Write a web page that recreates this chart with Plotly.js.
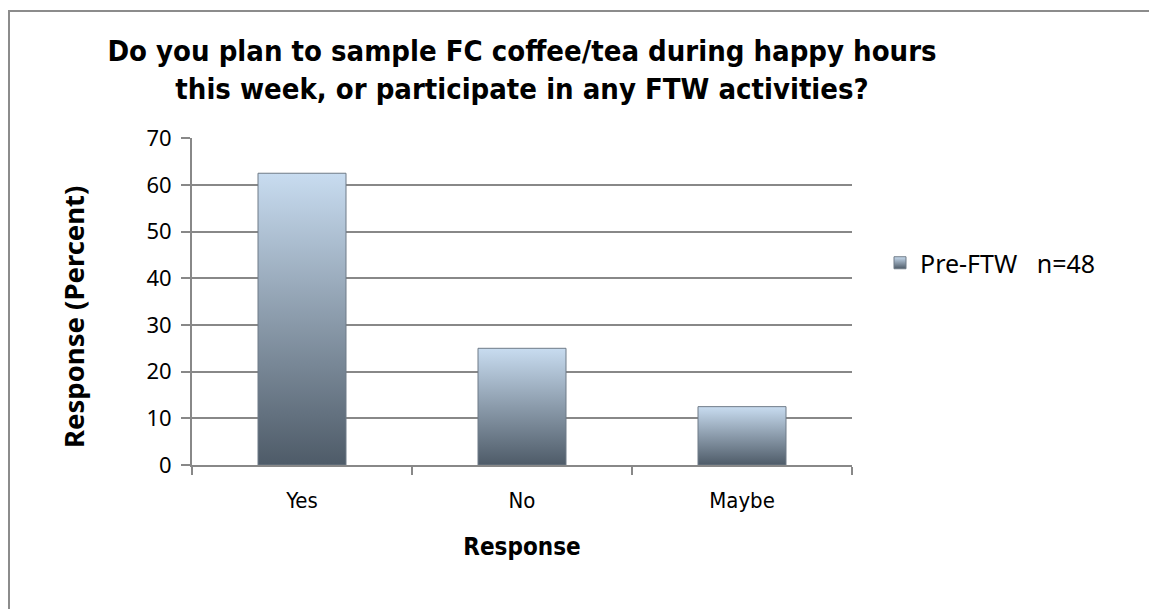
<!DOCTYPE html>
<html>
<head>
<meta charset="utf-8">
<script src="https://cdn.plot.ly/plotly-3.0.1.min.js"></script>
<style>
html,body{margin:0;padding:0;background:#fff;}
#chart{width:1149px;height:609px;}
</style>
</head>
<body>
<div id="chart"></div>
<script>
// Data
const categories = ["Yes", "No", "Maybe"];
const preFTW = [62.5, 25, 12.5];
const seriesName = "Pre-FTW   n=48";
const yTickVals = [0, 10, 20, 30, 40, 50, 60, 70];

const W = 1149, H = 609;
const mL = 192, mR = 297, mT = 138, mB = 144;
const pw = W - mL - mR, ph = H - mT - mB;
const px = v => (v - mL) / pw;
const py = v => (H - mB - v) / ph;

const COND = 'DejaVu Sans Condensed, DejaVu Sans';

const trace = {
  type: 'bar',
  x: categories,
  y: preFTW,
  name: seriesName,
  showlegend: true,
  marker: {color: '#8796a6', line: {color: '#6f7b87', width: 1}},
  hoverinfo: 'none'
};

const layout = {
  width: W, height: H,
  margin: {l: mL, r: mR, t: mT, b: mB, pad: 0},
  paper_bgcolor: '#ffffff',
  plot_bgcolor: '#ffffff',
  bargap: 0.6,
  showlegend: true,
  title: {
    text: 'Do you plan to sample FC coffee/tea during happy hours<br>this week, or participate in any FTW activities?',
    font: {family: COND, size: 29, color: '#000', weight: 'bold'},
    xref: 'paper', x: 0.5, xanchor: 'center',
    yref: 'container', y: 1 - 61/609, yanchor: 'top'
  },
  xaxis: {
    type: 'category',
    showgrid: false,
    showline: true, linecolor: '#888888', linewidth: 2,
    ticks: 'outside', tickson: 'boundaries', ticklen: 8, tickcolor: '#888888', tickwidth: 2,
    ticklabelstandoff: 15,
    tickfont: {family: COND, size: 22, color: '#000'},
    title: {text: 'Response', font: {family: COND, size: 24, color: '#000', weight: 'bold'}, standoff: 26},
    fixedrange: true
  },
  yaxis: {
    range: [0, 70.05],
    tickvals: yTickVals,
    showgrid: true, gridcolor: '#888888', gridwidth: 2,
    showline: true, linecolor: '#888888', linewidth: 2,
    ticks: 'outside', ticklen: 9, tickcolor: '#888888', tickwidth: 2,
    ticklabelstandoff: 5,
    tickfont: {family: 'Noto Sans', size: 22, color: '#000'},
    zeroline: false,
    fixedrange: true
  },
  annotations: [{
    text: 'Response (Percent)', textangle: -90,
    xref: 'paper', yref: 'paper', x: px(73), y: py(317),
    xanchor: 'center', yanchor: 'middle', showarrow: false,
    font: {family: 'Noto Sans', size: 27.5, color: '#000', weight: 'bold'}
  }],
  legend: {
    xref: 'container', x: 880/W, xanchor: 'left',
    yref: 'container', y: 1 - 263/H, yanchor: 'middle',
    font: {family: 'Noto Sans', size: 25, color: '#000'},
    bgcolor: 'rgba(0,0,0,0)',
    itemwidth: 30
  },
  shapes: [{
    type: 'rect', xref: 'paper', yref: 'paper',
    x0: px(9), x1: px(1200), y0: py(11), y1: py(700),
    line: {color: '#8c8c8c', width: 2}, fillcolor: 'rgba(0,0,0,0)', layer: 'below'
  }]
};

const gd = document.getElementById('chart');
Plotly.newPlot(gd, [trace], layout, {staticPlot: true, displayModeBar: false}).then(() => {
  const svg = gd.querySelector('.main-svg');
  const NS = 'http://www.w3.org/2000/svg';
  let defs = svg.querySelector('defs');
  if (!defs) { defs = document.createElementNS(NS, 'defs'); svg.insertBefore(defs, svg.firstChild); }
  const lg = document.createElementNS(NS, 'linearGradient');
  lg.setAttribute('id', 'barGrad');
  lg.setAttribute('x1', '0'); lg.setAttribute('y1', '0');
  lg.setAttribute('x2', '0'); lg.setAttribute('y2', '1');
  [['0', '#c8dcf0'], ['0.5', '#8b9bab'], ['1', '#4e5b68']].forEach(([o, c]) => {
    const s = document.createElementNS(NS, 'stop');
    s.setAttribute('offset', o); s.setAttribute('stop-color', c);
    lg.appendChild(s);
  });
  defs.appendChild(lg);
  gd.querySelectorAll('.trace.bars .point path, .legendpoints path').forEach(p => {
    p.style.fill = 'url(#barGrad)';
  });
});
</script>
</body>
</html>
